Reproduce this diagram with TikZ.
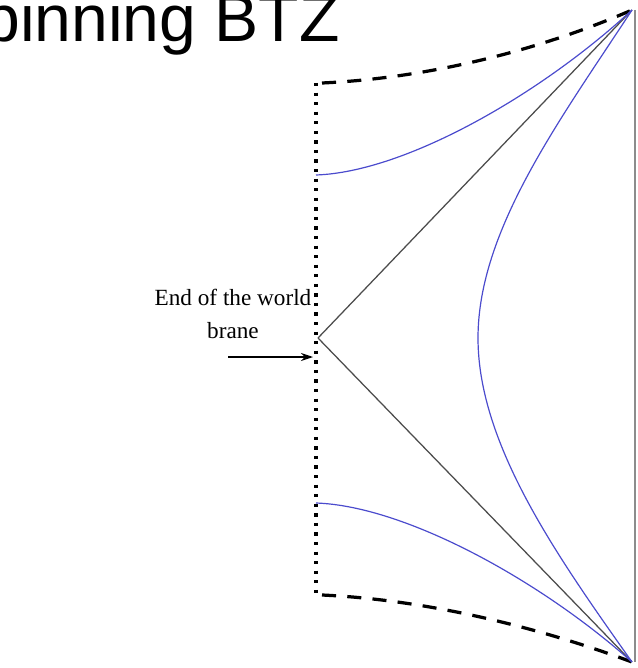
\documentclass[tikz,border=0pt]{standalone}
\usepackage{fontspec}
\setmainfont{Liberation Serif}
\newfontfamily\headfont{Liberation Sans}
\usetikzlibrary{arrows.meta}
\definecolor{geoblue}{RGB}{75,75,205}
\tikzset{
  geodesic/.style   = {draw=geoblue, line width=0.85pt},
  lightray/.style   = {draw=black!70, line width=0.9pt},
  horizon/.style    = {draw=black, line width=2.3pt, dash pattern=on 10pt off 8pt},
  branewall/.style  = {draw=black, line width=2.3pt, dash pattern=on 2.3pt off 4.5pt},
  boundary/.style   = {draw=black!45, line width=1.2pt},
  pointer/.style    = {-{Stealth[length=3mm, width=2mm]}, line width=0.9pt, black},
  branelabel/.style = {font=\fontsize{16.5pt}{23.4pt}\selectfont, align=center, inner sep=0pt},
  headline/.style   = {font=\headfont\fontsize{47pt}{52pt}\selectfont, inner sep=0pt},
}

\begin{document}
\begin{tikzpicture}[x=0.025cm, y=-0.025cm]

  \useasboundingbox (0,0) rectangle (637,668);
  \clip (0,0) rectangle (637,668);

  % Corners on the boundary and the brane
  \coordinate (tip)     at (632,10);
  \coordinate (foot)    at (632,662);
  \coordinate (kink)    at (318,338);
  \coordinate (walltop) at (316,83);
  \coordinate (wallbot) at (316,595);
  \coordinate (bdtop)   at (635,10);
  \coordinate (bdbot)   at (635,662);

  \node[headline, anchor=base west] (title) at (-61,42) {Spinning BTZ};

  % Boundary and end of the world brane
  \draw[boundary] (bdtop) -- (bdbot);
  \draw[branewall] (walltop) -- (wallbot);

  % Horizons
  \draw[horizon] (322,83) .. controls (430,78) and (540,50) .. (tip);
  \draw[horizon] (322,595) .. controls (430,600) and (540,628) .. (foot);

  % Light rays from the kink
  \draw[lightray] (kink) -- (tip);
  \draw[lightray] (kink) -- (foot);

  % Geodesics
  \draw[geodesic] (316,175) .. controls (405,172) and (540,95) .. (tip);
  \draw[geodesic] (316,503) .. controls (405,506) and (540,580) .. (foot);
  \draw[geodesic] (tip) .. controls (560,120) and (478,230) .. (478,338)
                        .. controls (478,446) and (560,560) .. (foot);

  % Label
  \node[branelabel] (endlabel) at (233,314) {End of the world\\brane};
  \coordinate (arrowtail) at (228,357);
  \coordinate (arrowhead) at (313,357);
  \draw[pointer] (arrowtail) -- (arrowhead);

\end{tikzpicture}
\end{document}
